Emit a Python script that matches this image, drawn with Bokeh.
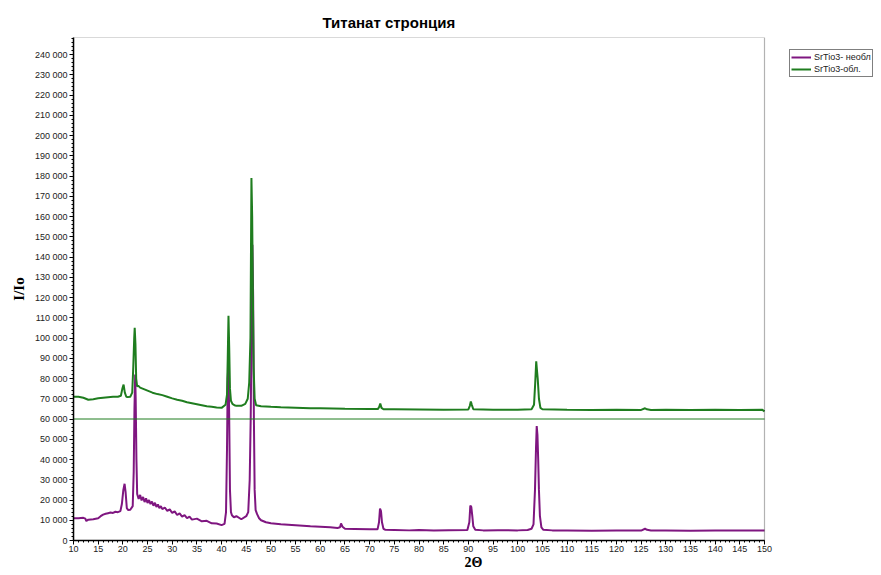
from bokeh.plotting import figure
from bokeh.models import (Range1d, SingleIntervalTicker, CustomJSTickFormatter,
                          Legend, LegendItem, Title, BoxAnnotation)
from bokeh.embed import file_html
from bokeh.resources import INLINE

title_text = "Титанат стронция"
x_label = "2Θ"
y_label = "I/Io"
name_1 = "SrTio3- необл"
name_2 = "SrTio3-обл."
ref_level = 60000
x_min, x_max = 10, 150
y_min, y_max = 0, 248400

purple_x = [10, 11, 12, 12.4, 12.6, 13, 14, 15, 15.5, 16,
            16.5, 17, 17.5, 18, 18.5, 19, 19.5, 19.8, 20.1, 20.35,
            20.55, 20.8, 21.1, 21.5, 22.0, 22.2, 22.35, 22.5, 22.6, 22.75,
            22.9, 23.2, 23.5, 23.8, 24.1, 24.4, 24.7, 25.0, 25.3, 25.6,
            25.9, 26.2, 26.5, 26.8, 27.1, 27.4, 27.7, 28.0, 28.5, 29.0,
            29.5, 30.0, 30.5, 31.0, 31.5, 32.0, 32.5, 33.0, 33.5, 34.0,
            35.0, 36.0, 37.0, 38.0, 39.0, 40.0, 40.6, 40.9, 41.1, 41.25,
            41.4, 41.55, 41.7, 41.9, 42.1, 42.5, 43.0, 44.0, 45.0, 45.4,
            45.7, 45.9, 46.1, 46.25, 46.4, 46.55, 46.7, 46.9, 47.2, 47.6,
            48, 49, 50, 52, 55, 58, 60, 62, 63.5, 64.0,
            64.2, 64.5, 65, 67, 70, 71.6, 71.9, 72.1, 72.3, 72.5,
            72.8, 73.2, 75, 78, 80, 83, 86, 89.8, 90.2, 90.4,
            90.6, 90.8, 91.0, 91.4, 93, 96, 100, 102, 102.8, 103.2,
            103.5, 103.7, 103.85, 104.0, 104.15, 104.3, 104.5, 104.8, 105.2, 107,
            110, 115, 120, 125, 125.8, 126.2, 127, 130, 135, 140,
            145, 150]
purple_y = [11000, 11000, 11200, 10800, 9600, 10300, 10500, 11000, 12000, 12800,
            13200, 13500, 13800, 13600, 14200, 14000, 14500, 18000, 25000, 28000,
            24000, 16000, 15000, 15200, 17000, 34000, 65000, 82000, 70000, 40000,
            23000, 20500, 22500, 19800, 21500, 19000, 20800, 18500, 20000, 18000,
            19200, 17200, 18600, 16600, 17800, 16000, 17000, 15500, 16300, 14600,
            15400, 13600, 14400, 12600, 13400, 11800, 12500, 11000, 11800, 10300,
            10800, 9500, 9700, 8500, 8400, 7600, 8200, 14000, 45000, 80000,
            88000, 60000, 25000, 14000, 12500, 11500, 12000, 10500, 12000, 14000,
            30000, 60000, 110000, 146000, 120000, 60000, 25000, 15000, 13000, 11000,
            10000, 9000, 8500, 8000, 7500, 7000, 6800, 6500, 6200, 6500,
            8400, 6800, 5800, 5700, 5500, 5500, 9000, 15800, 14500, 9000,
            5800, 5300, 5200, 5000, 5200, 4900, 5100, 5200, 9000, 17300,
            16500, 12000, 7000, 5300, 5000, 5100, 5000, 5200, 5800, 8000,
            25000, 45000, 56500, 52000, 40000, 25000, 12000, 6500, 5300, 5000,
            5000, 4800, 5000, 4900, 5800, 5300, 4900, 5000, 4800, 5000,
            4900, 5000]

green_x = [10, 11, 12, 12.5, 13, 14, 15, 16, 17, 18,
           19, 19.6, 19.9, 20.15, 20.4, 20.7, 21.0, 21.5, 21.9, 22.1,
           22.3, 22.4, 22.55, 22.7, 22.9, 23.1, 23.5, 24, 25, 26,
           27, 28, 29, 30, 31, 32, 33, 34, 35, 36,
           37, 38, 39, 40, 40.8, 41.1, 41.25, 41.4, 41.55, 41.7,
           41.9, 42.2, 42.6, 43, 44, 44.8, 45.3, 45.6, 45.85, 46.05,
           46.2, 46.35, 46.5, 46.7, 47, 48, 50, 52, 55, 58,
           60, 65, 70, 71.7, 71.95, 72.15, 72.4, 72.8, 75, 80,
           85, 90.0, 90.3, 90.5, 90.7, 91.0, 95, 100, 102.8, 103.3,
           103.55, 103.75, 103.9, 104.05, 104.3, 104.6, 105, 110, 115, 120,
           125, 125.8, 126.2, 127, 130, 135, 140, 145, 149.5, 150]
green_y = [71000, 71000, 70500, 70000, 69500, 69800, 70200, 70500, 70800, 71000,
           71000, 71500, 75000, 77000, 73000, 71000, 70800, 71000, 73000, 85000,
           100000, 105000, 97000, 80000, 76000, 76500, 75500, 75000, 74000, 73000,
           72300, 71800, 71000, 70200, 69500, 69000, 68300, 67800, 67300, 66800,
           66300, 66000, 65700, 65500, 67000, 72000, 90000, 111000, 95000, 75000,
           69000, 67500, 66800, 66500, 66500, 67500, 70000, 78000, 100000, 179000,
           160000, 120000, 85000, 70000, 66800, 66300, 66000, 65800, 65600, 65300,
           65300, 65100, 65000, 65000, 66000, 67700, 65500, 64800, 64800, 64700,
           64600, 64700, 66500, 68600, 67000, 64800, 64600, 64600, 64800, 67000,
           78000, 88500, 84000, 80000, 70000, 65500, 64800, 64600, 64500, 64600,
           64500, 65300, 64800, 64500, 64600, 64500, 64600, 64500, 64600, 63800]

PURPLE = "#7f1680"
GREEN = "#1f7d1f"

FRAME_W = 800
x_view_end = x_min + FRAME_W * (x_max - x_min) / 691.0

p = figure(frame_width=FRAME_W, frame_height=503, output_backend="svg", toolbar_location=None,
           x_range=Range1d(x_min, x_view_end), y_range=Range1d(y_min, y_max),
           min_border_left=73, min_border_right=0, min_border_top=37, min_border_bottom=10)
p.background_fill_color = "white"
p.border_fill_color = "white"
p.outline_line_color = None
p.grid.visible = False

p.title = Title(text=title_text, align="left", offset=249,
                text_font="Liberation Sans", text_font_size="15px", text_font_style="bold",
                text_color="black", standoff=13)

# plot frame (ends at x_max)
p.add_layout(BoxAnnotation(left=x_min, right=x_max, bottom=y_min, top=y_max,
                           fill_alpha=0, line_color="black", line_width=1.2))

r1 = p.line(purple_x, purple_y, line_color=PURPLE, line_width=2)
r2 = p.line(green_x, green_y, line_color=GREEN, line_width=2)
p.segment(x0=[x_min], x1=[x_max], y0=[ref_level], y1=[ref_level], line_color=GREEN, line_width=1)

fmt = CustomJSTickFormatter(code="""
var s = Math.round(tick).toString();
return s.replace(/\\B(?=(\\d{3})+(?!\\d))/g, ' ');
""")
p.yaxis.ticker = SingleIntervalTicker(interval=10000, num_minor_ticks=5)
p.yaxis.formatter = fmt
p.xaxis.ticker = SingleIntervalTicker(interval=5, num_minor_ticks=5)
p.xaxis.bounds = (x_min, x_max)

for ax in (p.xaxis[0], p.yaxis[0]):
    ax.axis_line_color = "black"
    ax.axis_line_width = 1.5
    ax.major_tick_line_color = "black"
    ax.minor_tick_line_color = "black"
    ax.major_tick_in = 0
    ax.major_tick_out = 4
    ax.minor_tick_in = 0
    ax.minor_tick_out = 2
    ax.major_label_text_font = "Liberation Sans"
    ax.major_label_text_font_size = "9px"
    ax.major_label_text_color = "#222222"
    ax.major_label_standoff = 2
    ax.axis_label_text_font = "Liberation Serif"
    ax.axis_label_text_font_style = "bold"
    ax.axis_label_text_font_size = "15px"
    ax.axis_label_text_color = "black"
p.xaxis.axis_label = x_label
p.yaxis.axis_label = y_label
p.xaxis.axis_label_standoff = 0
p.xaxis.major_label_standoff = 1
p.xaxis.axis_label_text_font_size = "14px"
p.yaxis.axis_label_standoff = 5

legend = Legend(items=[LegendItem(label=name_1, renderers=[r1]),
                       LegendItem(label=name_2, renderers=[r2])],
                location=(716, 463), orientation="vertical")
legend.border_line_color = "black"
legend.border_line_width = 1
legend.background_fill_color = "white"
legend.background_fill_alpha = 1
legend.padding = 1
legend.spacing = 0
legend.margin = 0
legend.glyph_width = 20
legend.glyph_height = 12
legend.label_height = 12
legend.label_standoff = 3
legend.label_text_font = "Liberation Sans"
legend.label_text_font_size = "9px"
legend.label_text_color = "#222222"
legend.label_text_baseline = "middle"
p.add_layout(legend, "center")

open("out.html", "w").write(file_html(p, INLINE))
